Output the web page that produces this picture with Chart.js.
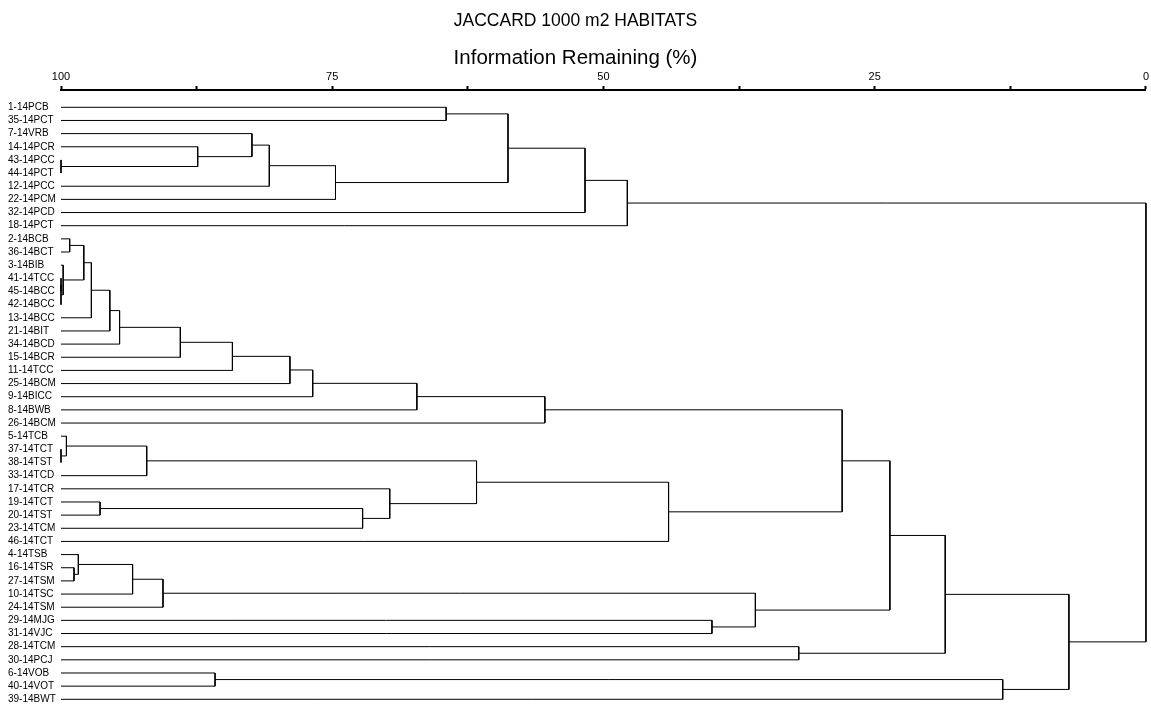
<!DOCTYPE html>
<html>
<head>
<meta charset="utf-8">
<script src="https://cdn.jsdelivr.net/npm/chart.js@4.4.1/dist/chart.umd.min.js"></script>
<style>
  html, body { margin: 0; padding: 0; background: #fff; }
  #wrap { width: 1151px; height: 704px; position: relative; }
</style>
</head>
<body>
<div id="wrap"><canvas id="dendro"></canvas></div>
<script>
// Sample sites, top to bottom in dendrogram order
const leafLabels = [
  '1-14PCB', '35-14PCT', '7-14VRB', '14-14PCR', '43-14PCC', '44-14PCT', '12-14PCC', '22-14PCM',
  '32-14PCD', '18-14PCT', '2-14BCB', '36-14BCT', '3-14BIB', '41-14TCC', '45-14BCC', '42-14BCC',
  '13-14BCC', '21-14BIT', '34-14BCD', '15-14BCR', '11-14TCC', '25-14BCM', '9-14BICC', '8-14BWB',
  '26-14BCM', '5-14TCB', '37-14TCT', '38-14TST', '33-14TCD', '17-14TCR', '19-14TCT', '20-14TST',
  '23-14TCM', '46-14TCT', '4-14TSB', '16-14TSR', '27-14TSM', '10-14TSC', '24-14TSM', '29-14MJG',
  '31-14VJC', '28-14TCM', '30-14PCJ', '6-14VOB', '40-14VOT', '39-14BWT'
];

// Agglomeration steps: node ids 0..45 are sites, step k creates node 46 + k
const linkA = [
  4, 3, 2, 48, 49, 0, 51, 52, 53,
  13, 55, 12, 10, 58, 59, 60, 61, 62, 63, 64, 65, 66, 67,
  26, 25, 70, 30, 72, 29, 71, 75, 68,
  35, 34, 79, 80, 39, 81, 77, 41, 84, 43, 87, 86, 54
];
const linkB = [
  5, 46, 47, 6, 7, 1, 50, 8, 9,
  14, 15, 56, 11, 57, 16, 17, 18, 19, 20, 21, 22, 23, 24,
  27, 69, 28, 31, 32, 73, 74, 33, 76,
  36, 78, 37, 38, 40, 82, 83, 42, 85, 44, 45, 88, 89
];
// Information remaining (%) at each fusion
const linkLevel = [
  100, 87.4, 82.4, 80.8, 74.7, 64.5, 58.8, 51.7, 47.8,
  100, 100, 99.8, 99.2, 97.9, 97.2, 95.5, 94.6, 89.0, 84.2, 78.9, 76.8, 67.2, 55.4,
  100, 99.5, 92.1, 96.4, 72.2, 69.7, 61.7, 44.0, 28.0,
  98.8, 98.4, 93.4, 90.6, 40.0, 36.0, 23.6, 32.0, 18.5, 85.8, 13.2, 7.1, 0
];

const axisTickValues = [100, 87.5, 75, 62.5, 50, 37.5, 25, 12.5, 0];
const axisTickLabels = ['100', '', '75', '', '50', '', '25', '', '0'];

const chartTitle = 'JACCARD 1000 m2 HABITATS';
const axisTitle = 'Information Remaining (%)';

// Each fusion is drawn as a bracket joining its two children
const nodeLevel = leafLabels.map(() => 100);
const nodeRow = leafLabels.map((_, i) => i);
const datasets = [];
linkA.forEach((a, k) => {
  const b = linkB[k];
  const h = linkLevel[k];
  datasets.push({
    data: [
      { x: nodeLevel[a], y: nodeRow[a] },
      { x: h, y: nodeRow[a] },
      { x: h, y: nodeRow[b] },
      { x: nodeLevel[b], y: nodeRow[b] }
    ],
    showLine: true,
    borderColor: '#000',
    borderWidth: 1,
    pointRadius: 0,
    fill: false,
    tension: 0,
    clip: false
  });
  nodeLevel.push(h);
  nodeRow.push((nodeRow[a] + nodeRow[b]) / 2);
});

const FONT = '"Liberation Sans", Arial, sans-serif';

// Heading and axis caption above the scale, centred on the page
const headings = {
  id: 'headings',
  afterDraw(chart) {
    const ctx = chart.ctx;
    const cx = chart.width / 2;
    ctx.save();
    ctx.fillStyle = '#000';
    ctx.textAlign = 'center';
    ctx.textBaseline = 'alphabetic';
    ctx.font = '17.5px ' + FONT;
    ctx.fillText(chartTitle, cx, 26);
    ctx.font = '20.5px ' + FONT;
    ctx.fillText(axisTitle, cx, 64);
    ctx.restore();
  }
};

new Chart(document.getElementById('dendro'), {
  type: 'scatter',
  data: { datasets },
  plugins: [headings],
  options: {
    responsive: true,
    maintainAspectRatio: false,
    animation: false,
    devicePixelRatio: 1,
    events: [],
    layout: { padding: { left: 8, right: 4, top: 0, bottom: 0 } },
    plugins: {
      legend: { display: false },
      tooltip: { enabled: false },
      title: { display: false }
    },
    scales: {
      x: {
        type: 'linear',
        position: 'top',
        reverse: true,
        min: 0,
        max: 100,
        afterBuildTicks: (s) => { s.ticks = axisTickValues.map(v => ({ value: v })); },
        afterFit: (s) => { s.height = 90; },
        ticks: {
          autoSkip: false,
          maxRotation: 0,
          padding: 2,
          color: '#000',
          font: { family: FONT, size: 11 },
          callback: (v) => axisTickLabels[axisTickValues.indexOf(v)]
        },
        grid: {
          drawOnChartArea: false,
          drawTicks: true,
          tickLength: 4,
          tickWidth: 2,
          tickColor: '#000'
        },
        border: { display: true, color: '#000', width: 2 }
      },
      y: {
        type: 'linear',
        reverse: true,
        min: -1.315,
        max: 45.357,
        afterBuildTicks: (s) => { s.ticks = leafLabels.map((_, i) => ({ value: i })); },
        afterFit: (s) => { s.width = 53; s.paddingTop = 0; s.paddingBottom = 0; },
        ticks: {
          autoSkip: false,
          crossAlign: 'far',
          padding: 0,
          color: '#000',
          font: { family: FONT, size: 10 },
          callback: (v) => leafLabels[v]
        },
        grid: { display: false },
        border: { display: false }
      }
    }
  }
});
</script>
</body>
</html>
